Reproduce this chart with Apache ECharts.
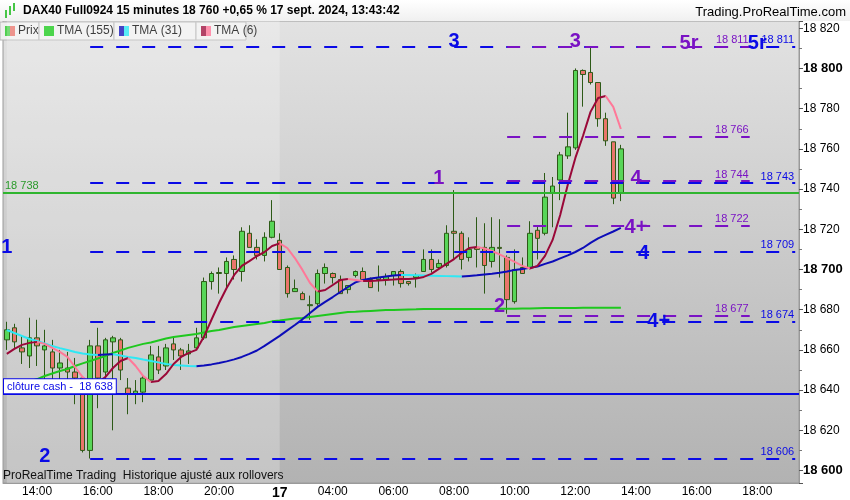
<!DOCTYPE html>
<html>
<head>
<meta charset="utf-8">
<script src="https://cdn.jsdelivr.net/npm/echarts@6.0.0/dist/echarts.min.js"></script>
<style>
  html, body { margin: 0; padding: 0; background: #fff; }
  #chart { width: 850px; height: 500px; }
</style>
</head>
<body>
<div id="chart"></div>
<script>
// 15 min bars, 16 sept 13:00 -> 17 sept 13:30
const openPrices = [18665, 18671, 18661, 18657, 18666, 18660, 18659, 18651, 18651, 18649,
  18646, 18610, 18662, 18649, 18664, 18665, 18641, 18638, 18639, 18645,
  18656.5, 18652, 18663, 18660, 18658, 18661, 18666, 18694, 18698, 18698,
  18705, 18699, 18718, 18711, 18707, 18716, 18714.5, 18701, 18689, 18688,
  18682, 18683, 18698, 18698, 18695, 18690, 18697, 18699, 18695, 18695,
  18695, 18697, 18699, 18694, 18696, 18699, 18705, 18701, 18702, 18719,
  18718, 18706, 18711, 18711, 18704, 18711, 18706, 18684, 18701, 18701,
  18719.5, 18718, 18738, 18744.5, 18756.5, 18760.5, 18799, 18798, 18793, 18775,
  18763.5, 18738];
const closePrices = [18670, 18664, 18659, 18666, 18662, 18662, 18651, 18653.5, 18649, 18646,
  18610, 18662, 18646, 18665, 18666, 18650, 18638, 18639.5, 18646, 18657.5,
  18650, 18661, 18660, 18657, 18659.5, 18666, 18694, 18698, 18698.5, 18704,
  18700, 18719, 18711, 18707, 18716, 18724, 18700, 18688, 18690.5, 18685,
  18682.5, 18698, 18701, 18696, 18688, 18692, 18699, 18695, 18691, 18696,
  18696.5, 18699, 18693, 18693, 18697, 18705, 18700, 18703, 18718, 18718,
  18705, 18710, 18710, 18702, 18711, 18710.5, 18685, 18700, 18698, 18718,
  18715.5, 18736, 18741.5, 18757, 18761, 18799, 18797, 18793, 18775, 18764,
  18735.5, 18760];
const lowPrices = [18660, 18661, 18653, 18651, 18652, 18645, 18645, 18644, 18638, 18633,
  18609, 18606, 18631, 18642, 18620, 18645, 18628, 18633, 18634, 18644,
  18648, 18650, 18655, 18650, 18653, 18660, 18665, 18690, 18688, 18691,
  18695, 18694, 18711, 18705, 18704, 18715.5, 18700, 18686, 18689, 18685,
  18675, 18682, 18693, 18693, 18688, 18688, 18696, 18694.5, 18691, 18689,
  18692, 18692, 18691, 18692, 18691, 18699, 18698.5, 18700, 18701, 18705,
  18700, 18704, 18701, 18688, 18701, 18696, 18678, 18683, 18698, 18700,
  18705, 18717, 18721, 18734.5, 18755, 18759.5, 18781, 18792, 18771, 18761.5,
  18732.5, 18734];
const highPrices = [18674, 18673, 18667, 18676, 18675, 18670, 18665, 18660, 18659, 18656,
  18647, 18665, 18671, 18666, 18667, 18666, 18646, 18645, 18648, 18662,
  18662, 18663, 18666, 18661, 18663, 18671, 18696, 18699, 18701, 18706,
  18707, 18721, 18722, 18715, 18718.5, 18734.5, 18718, 18702, 18695, 18689,
  18687, 18700, 18703, 18698.5, 18697, 18692, 18699.5, 18701, 18696, 18702,
  18698, 18699, 18700, 18694, 18698, 18710, 18710, 18705, 18722, 18739.5,
  18719, 18716, 18726, 18723, 18726, 18725, 18707, 18710, 18706, 18724,
  18722, 18748, 18746, 18758.5, 18778, 18800, 18799.5, 18811, 18793, 18778,
  18763.5, 18762];

const tma155 = [18640.1, 18641.6, 18643.1, 18644.3, 18645.5, 18647, 18648.3, 18649.5, 18650.5, 18652,
  18653.3, 18654.5, 18655.7, 18657, 18658.5, 18659.7, 18661, 18662, 18663, 18663.7,
  18664.7, 18665.7, 18666.4, 18666.9, 18667.4, 18667.9, 18668.7, 18669.4, 18669.9, 18670.7,
  18671.4, 18671.9, 18672.4, 18672.9, 18673.4, 18674.2, 18674.6, 18675.1, 18675.6, 18675.9,
  18676.4, 18676.9, 18677.4, 18677.9, 18678.4, 18678.9, 18679, 18679.2, 18679.4, 18679.6,
  18679.8, 18679.9, 18680, 18680.1, 18680.2, 18680.4, 18680.4, 18680.4, 18680.4, 18680.4,
  18680.4, 18680.4, 18680.4, 18680.4, 18680.4, 18680.5, 18680.5, 18680.5, 18680.6, 18680.6,
  18680.7, 18680.8, 18680.9, 18680.9, 18680.9, 18680.9, 18681, 18681, 18681, 18681,
  18681, 18681];
const tma31 = [18669.9, 18668.4, 18666.9, 18665.4, 18664.4, 18663.2, 18661.9, 18660.9, 18660, 18659,
  18658.2, 18657.7, 18657.5, 18657.7, 18657.8, 18657.2, 18656.5, 18656, 18655.2, 18654.5,
  18653.8, 18653, 18652.5, 18652.3, 18652, 18651.9, 18652.3, 18652.8, 18653.5, 18654.3,
  18655.3, 18656.5, 18658, 18659.7, 18662, 18664.5, 18667, 18669.7, 18672.4, 18675.2,
  18678.4, 18681.4, 18683.9, 18686.3, 18688.8, 18691.3, 18693.6, 18694.8, 18695.5, 18696,
  18696.5, 18697, 18697.3, 18697.2, 18697.1, 18697, 18696.9, 18696.8, 18696.7, 18696.6,
  18696.5, 18696.8, 18697.1, 18697.5, 18697.9, 18698.4, 18699, 18699.8, 18700.3, 18700.8,
  18701.5, 18702.8, 18704, 18705.5, 18707, 18708.7, 18710.7, 18713.2, 18715.5, 18717.2,
  18718.9, 18720.7];
const tma6 = [18658, 18660.5, 18662.5, 18663.5, 18664, 18663, 18661, 18659, 18656.5, 18651.5,
  18646.5, 18643.5, 18643.6, 18646.5, 18651, 18654.5, 18656, 18652, 18647, 18644,
  18644.5, 18648, 18653, 18656.5, 18658.5, 18660, 18666.5, 18675, 18683.3, 18690.8,
  18697.3, 18701.8, 18704.2, 18706.7, 18708.7, 18711.7, 18713, 18710.7, 18705.7, 18699.8,
  18693.3, 18689.1, 18689.8, 18692.3, 18694.8, 18695.3, 18694.8, 18694.3, 18694.3, 18694.5,
  18694.8, 18695, 18695.3, 18695.3, 18695.5, 18696.3, 18697.8, 18700.3, 18702.8, 18705.2,
  18708.2, 18710.7, 18711.2, 18710.5, 18709.2, 18707.5, 18705.7, 18703.8, 18701.8, 18700.5,
  18701.8, 18706.8, 18714.7, 18727.1, 18742.1, 18755.5, 18766.4, 18778.4, 18785.3, 18786.3,
  18780.9, 18769.9];

// levels
const blueLevels = [18811, 18743, 18709, 18674, 18606];
const purpleLevels = [18811, 18766, 18744, 18722, 18677];
const prevCloseLevel = 18738;
const cashClose = 18638;
const lastPrice = 18760;

// level numbers: [text, bar index, price]
const blueTags = [['1', 0, 18710.7], ['2', 5, 18606.8], ['3', 59, 18813.2], ['4', 84, 18708.2], ['4+', 86, 18673.9], ['5r', 99, 18812.2]];
const purpleTags = [['1', 57, 18745.5], ['2', 65, 18681.4], ['3', 75, 18813.2], ['4', 83, 18745.5], ['4+', 83, 18720.7], ['5r', 90, 18812.2]];

// time axis
const day16Bars = 36;   // 13:00 .. 21:45
const day17Bars = 69;   // 02:15 .. 19:15
const tickLabels = ['16 14:00', '16 16:00', '16 18:00', '16 20:00', '17 02:15', '17 04:00', '17 06:00',
  '17 08:00', '17 10:00', '17 12:00', '17 14:00', '17 16:00', '17 18:00'];

function slots(day, startMin, n) {
  const out = [];
  for (let i = 0; i < n; i++) {
    const m = startMin + i * 15;
    out.push(day + ' ' + String(Math.floor(m / 60)).padStart(2, '0') + ':' + String(m % 60).padStart(2, '0'));
  }
  return out;
}
const categories = slots('16', 13 * 60, day16Bars).concat(slots('17', 2 * 60 + 15, day17Bars));

const BLUE = '#0a0ae6';
const PURPLE = '#7a12c4';

function fmt(v) {
  return String(v).replace(/\B(?=(\d{3})+(?!\d))/g, ' ');
}

function splitTrend(vals) {
  const up = vals.map(() => null), down = vals.map(() => null);
  for (let i = 0; i < vals.length - 1; i++) {
    const t = vals[i + 1] >= vals[i] ? up : down;
    t[i] = vals[i];
    t[i + 1] = vals[i + 1];
  }
  return { up, down };
}

const candleData = openPrices.map((o, i) => [o, closePrices[i], lowPrices[i], highPrices[i]]);
const t31 = splitTrend(tma31);
const t6 = splitTrend(tma6);

const levelEnd = 104, blueStart = 11, purpleStart = 66, purpleEnd = 98;

const levelLines = [];
blueLevels.forEach(v => {
  levelLines.push([
    { coord: [blueStart, v], lineStyle: { color: BLUE, type: [13, 13], width: 2 },
      label: { show: true, position: 'insideEndTop', formatter: fmt(v), color: BLUE, fontSize: 11, distance: 1 } },
    { coord: [levelEnd, v] }
  ]);
});
purpleLevels.forEach(v => {
  levelLines.push([
    { coord: [purpleStart, v], lineStyle: { color: PURPLE, type: [13, 13], width: 2 },
      label: { show: true, position: 'insideEndTop', formatter: fmt(v), color: PURPLE, fontSize: 11, distance: 1 } },
    { coord: [purpleEnd, v] }
  ]);
});
levelLines.push({ yAxis: prevCloseLevel, lineStyle: { color: '#2fb52f', type: 'solid', width: 2 },
  label: { show: true, position: 'insideStartTop', formatter: fmt(prevCloseLevel), color: '#2a9a2a', fontSize: 11, distance: 2 } });
levelLines.push({ yAxis: cashClose, lineStyle: { color: BLUE, type: 'solid', width: 2 },
  label: { show: true, position: 'insideStartTop', formatter: 'clôture cash -  ' + fmt(cashClose), color: BLUE, fontSize: 11,
    backgroundColor: '#fff', borderColor: BLUE, borderWidth: 1, padding: [2, 3, 1, 3], distance: 1 } });
levelLines.push({ yAxis: lastPrice, lineStyle: { opacity: 0 },
  label: { show: true, position: 'end', formatter: fmt(lastPrice), color: '#000', fontSize: 12,
    backgroundColor: '#ffc400', borderColor: '#c99700', borderWidth: 1, padding: [2, 2, 1, 2], distance: 5 } });

const tagPoints = blueTags.map(t => ({ coord: [t[1], t[2]], value: t[0], label: { color: BLUE } }))
  .concat(purpleTags.map(t => ({ coord: [t[1], t[2]], value: t[0], label: { color: PURPLE } })));

const chart = echarts.init(document.getElementById('chart'));

function legendBox(x, w, c1, c2, text) {
  return {
    type: 'group', z: 100, children: [
      { type: 'rect', shape: { x: x, y: 22, width: w, height: 18 }, style: { fill: '#efefef', stroke: '#b5b5b5', lineWidth: 1 } },
      { type: 'rect', shape: { x: x + 5, y: 26, width: 5, height: 10 }, style: { fill: c1 } },
      { type: 'rect', shape: { x: x + 10, y: 26, width: 5, height: 10 }, style: { fill: c2 } },
      { type: 'text', x: x + 18, y: 31, style: { text: text, font: '12px "Liberation Sans", Arial, sans-serif', fill: '#000', verticalAlign: 'middle' } }
    ]
  };
}

const option = {
  animation: false,
  backgroundColor: '#fff',
  textStyle: { fontFamily: '"Liberation Sans", Arial, sans-serif' },
  grid: {
    left: 3, right: 51, top: 21, bottom: 17, show: true,
    borderColor: '#9a9a9a', borderWidth: 1,
    backgroundColor: { type: 'linear', x: 0, y: 0, x2: 0, y2: 1,
      colorStops: [{ offset: 0, color: '#e2e2e2' }, { offset: 1, color: '#b2b2b2' }] }
  },
  xAxis: {
    type: 'category', data: categories, boundaryGap: true,
    axisLine: { lineStyle: { color: '#9a9a9a' } },
    axisTick: { alignWithLabel: true, length: 3, lineStyle: { color: '#777' },
      interval: (i, v) => tickLabels.includes(v) },
    axisLabel: {
      interval: (i, v) => tickLabels.includes(v),
      color: '#000', fontSize: 12, margin: 3,
      formatter: v => v === '17 02:15' ? '{b|17}' : v.slice(3),
      rich: { b: { fontWeight: 'bold', fontSize: 14, color: '#000' } }
    },
    splitLine: { show: false }
  },
  yAxis: {
    type: 'value', position: 'right', min: 18593.8, max: 18823.6, splitNumber: 11, scale: true,
    axisLine: { show: true, lineStyle: { color: '#9a9a9a' } },
    axisTick: { show: true, length: 4, lineStyle: { color: '#555' } },
    minorTick: { show: true, splitNumber: 2, length: 3, lineStyle: { color: '#777' } },
    splitLine: { show: false },
    axisLabel: {
      color: '#000', fontSize: 12, margin: 4, showMinLabel: false, showMaxLabel: false,
      formatter: v => (v % 100 === 0 ? '{b|' + fmt(v) + '}' : fmt(v)),
      rich: { b: { fontWeight: 'bold', fontSize: 13, color: '#000' } }
    }
  },
  series: [
    {
      type: 'candlestick', name: 'Prix', data: candleData, barWidth: 5,
      itemStyle: { color: '#58d658', color0: '#ea756b', borderColor: '#2d5a17', borderColor0: '#2d5a17', borderWidth: 1 },
      markArea: {
        silent: true,
        itemStyle: { color: 'rgba(255,255,255,0.24)' },
        data: [[{ xAxis: 0 }, { xAxis: 36 }]]
      },
      markLine: { silent: true, symbol: ['none', 'none'], animation: false, data: levelLines },
      markPoint: {
        silent: true, symbol: 'circle', symbolSize: 1, itemStyle: { color: 'rgba(0,0,0,0)' },
        label: { show: true, position: 'inside', formatter: p => p.value,
          fontSize: 20, fontWeight: 'bold' },
        data: tagPoints
      }
    },
    { type: 'line', name: 'TMA (155)', data: tma155, symbol: 'none', lineStyle: { color: '#1ec81e', width: 2 } },
    { type: 'line', name: 'TMA (31) up', data: t31.up, symbol: 'none', lineStyle: { color: '#0c0cb8', width: 2 } },
    { type: 'line', name: 'TMA (31) down', data: t31.down, symbol: 'none', lineStyle: { color: '#2ee8f4', width: 2 } },
    { type: 'line', name: 'TMA (6) up', data: t6.up, symbol: 'none', lineStyle: { color: '#9a0838', width: 2 } },
    { type: 'line', name: 'TMA (6) down', data: t6.down, symbol: 'none', lineStyle: { color: '#ff7898', width: 2 } }
  ],
  graphic: [
    { type: 'rect', z: 90, shape: { x: 0, y: 0, width: 850, height: 21 },
      style: { fill: { type: 'linear', x: 0, y: 0, x2: 0, y2: 1, colorStops: [{ offset: 0, color: '#ffffff' }, { offset: 1, color: '#f0f0f0' }] } } },
    { type: 'rect', z: 91, shape: { x: 5, y: 10, width: 2, height: 8 }, style: { fill: '#46c646' } },
    { type: 'rect', z: 91, shape: { x: 9, y: 6, width: 2, height: 9 }, style: { fill: '#46c646' } },
    { type: 'rect', z: 91, shape: { x: 13, y: 3, width: 2, height: 8 }, style: { fill: '#46c646' } },
    { type: 'text', z: 91, x: 23, y: 11, style: { text: 'DAX40 Full0924 15 minutes 18 760 +0,65 % 17 sept. 2024, 13:43:42',
      font: 'bold 12px "Liberation Sans", Arial, sans-serif', fill: '#000', verticalAlign: 'middle' } },
    { type: 'text', z: 91, x: 846, y: 12, style: { text: 'Trading.ProRealTime.com', align: 'right',
      font: '13px "Liberation Sans", Arial, sans-serif', fill: '#000', verticalAlign: 'middle' } },
    legendBox(0, 39, '#4ccf4c', '#e8736a', 'Prix'),
    legendBox(39, 75, '#14c814', '#14c814', 'TMA (155)'),
    legendBox(114, 82, '#0a0ab4', '#22e6f2', 'TMA (31)'),
    legendBox(196, 50, '#9a0838', '#ff6f94', 'TMA (6)'),
    { type: 'text', z: 95, x: 3, y: 476, style: { text: 'ProRealTime Trading  Historique ajusté aux rollovers',
      font: '12px "Liberation Sans", Arial, sans-serif', fill: '#111', verticalAlign: 'middle' } }
  ]
};

chart.setOption(option);
</script>
</body>
</html>
